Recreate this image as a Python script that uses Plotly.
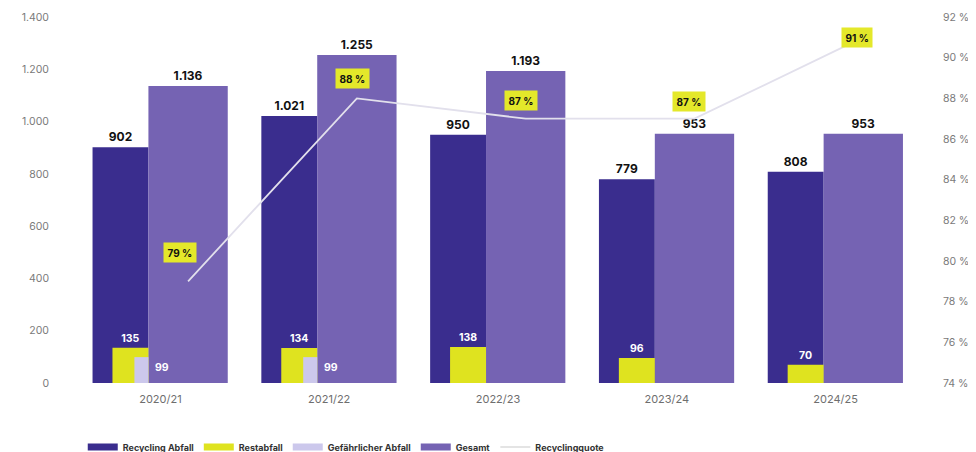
import numpy as np
import plotly.graph_objects as go

# ---- data ----
categories = ["2020/21", "2021/22", "2022/23", "2023/24", "2024/25"]
recycling = [902, 1021, 950, 779, 808]
restabfall = [135, 134, 138, 96, 70]
gefaehrlich = [99, 99, None, None, None]
gesamt = [1136, 1255, 1193, 953, 953]
quote = [79, 88, 87, 87, 91]
left_ticks = [0, 200, 400, 600, 800, 1000, 1200, 1400]
right_ticks = [74, 76, 78, 80, 82, 84, 86, 88, 90, 92]

# ---- styling ----
C_REC = "#3A2D8E"
C_GES = "#7563B3"
C_REST = "#DFE31F"
C_GEF = "#CCC8EC"
C_LINE = "#E2E0EC"
FONT = "Inter"
# label nudges (pixels) for the percentage boxes
Q_XSHIFT = [-8, -4, -5, -5, -6]
Q_YSHIFT = [29, 20, 18, 17, 0]

idx = np.arange(len(categories))

# offsets / widths in category units
REC_OFF, REC_W = -0.402, 0.331
GES_OFF, GES_W = -0.071, 0.470
REST_OFF, REST_W = -0.284, 0.213
GEF_OFF, GEF_W = -0.154, 0.083
ges_center = GES_OFF + GES_W / 2

fig = go.Figure()

fig.add_trace(go.Bar(
    x=idx, y=recycling, offset=REC_OFF, width=REC_W,
    marker=dict(color=C_REC, line=dict(width=0)),
    texttemplate="%{y:,}", textposition="outside", constraintext="none",
    textfont=dict(family=FONT, size=12, color="#111", weight="bold"),
    cliponaxis=False, showlegend=False, legendgroup="rec", name="Recycling Abfall",
))
fig.add_trace(go.Bar(
    x=idx, y=gesamt, offset=GES_OFF, width=GES_W,
    marker=dict(color=C_GES, line=dict(width=0)),
    texttemplate="%{y:,}", textposition="outside", constraintext="none",
    textfont=dict(family=FONT, size=12, color="#111", weight="bold"),
    cliponaxis=False, showlegend=False, legendgroup="ges", name="Gesamt",
))
fig.add_trace(go.Bar(
    x=idx, y=restabfall, offset=REST_OFF, width=REST_W,
    marker=dict(color=C_REST, line=dict(width=0)),
    texttemplate="%{y:,}", textposition="outside", constraintext="none",
    textfont=dict(family=FONT, size=10.5, color="white", weight="bold"),
    cliponaxis=False, showlegend=False, legendgroup="rest", name="Restabfall",
))
fig.add_trace(go.Bar(
    x=idx, y=gefaehrlich, offset=GEF_OFF, width=GEF_W,
    marker=dict(color=C_GEF, line=dict(width=0)),
    showlegend=False, legendgroup="gef", name="Gefährlicher Abfall",
))
fig.add_trace(go.Scatter(
    x=idx + ges_center, y=quote, yaxis="y2", mode="lines",
    line=dict(color=C_LINE, width=1.8), showlegend=False,
    legendgroup="quote", name="Recyclingquote",
))

# legend-only entries (flat swatches)
for name, col, grp, w in [("Recycling Abfall", C_REC, "rec", 7),
                          ("Restabfall", C_REST, "rest", 7),
                          ("Gefährlicher Abfall", C_GEF, "gef", 7),
                          ("Gesamt", C_GES, "ges", 7),
                          ("Recyclingquote", "#E4E4E4", "quote", 2)]:
    fig.add_trace(go.Scatter(x=[None], y=[None], mode="lines", name=name,
                             legendgroup=grp, line=dict(color=col, width=w)))

annotations = []
for i, v in enumerate(gefaehrlich):
    if v is not None:
        annotations.append(dict(
            x=i + 0.012, y=v * 0.6, xref="x", yref="y", text=f"{v}",
            showarrow=False, font=dict(family=FONT, size=10.5, color="white", weight="bold"),
            xanchor="center", yanchor="middle"))
for i, q in enumerate(quote):
    annotations.append(dict(
        x=i + ges_center, y=q, xref="x", yref="y2", text=f"{q} %",
        showarrow=False, bgcolor="#E4E82A", borderpad=3.5,
        font=dict(family=FONT, size=10, color="#111", weight="bold"),
        xshift=Q_XSHIFT[i], yshift=Q_YSHIFT[i]))

# the page body adds an 8px offset, so the figure is sized to fill the rest
fig.update_layout(
    width=968, height=444,
    margin=dict(l=68, r=56, t=9, b=69, autoexpand=False),
    paper_bgcolor="white", plot_bgcolor="white",
    barmode="overlay", separators=",.",
    font=dict(family=FONT, size=11, color="#6e6e6e"),
    xaxis=dict(range=[-0.5, 4.5], tickvals=idx, ticktext=categories,
               showgrid=False, zeroline=False, showline=False, ticks="",
               automargin=False, ticklabelstandoff=8,
               tickfont=dict(size=11, color="#6e6e6e")),
    yaxis=dict(range=[0, 1400], tickvals=left_ticks, tickformat=",d",
               showgrid=False, zeroline=False, showline=False, ticks="",
               automargin=False, ticklabelstandoff=26,
               tickfont=dict(size=10.5, color="#7a7a7a")),
    yaxis2=dict(range=[74, 92], tickvals=right_ticks,
                ticktext=[f"{t} %" for t in right_ticks],
                overlaying="y", side="right", showgrid=False, zeroline=False,
                showline=False, ticks="", automargin=False, ticklabelstandoff=22,
                tickfont=dict(size=10.5, color="#7a7a7a")),
    legend=dict(orientation="h", x=0.008, xanchor="left", y=-0.175, yanchor="middle",
                font=dict(family=FONT, size=9, color="#333", weight="bold"),
                itemwidth=30, bgcolor="rgba(0,0,0,0)"),
    annotations=annotations,
)

fig.write_html("out.html")
